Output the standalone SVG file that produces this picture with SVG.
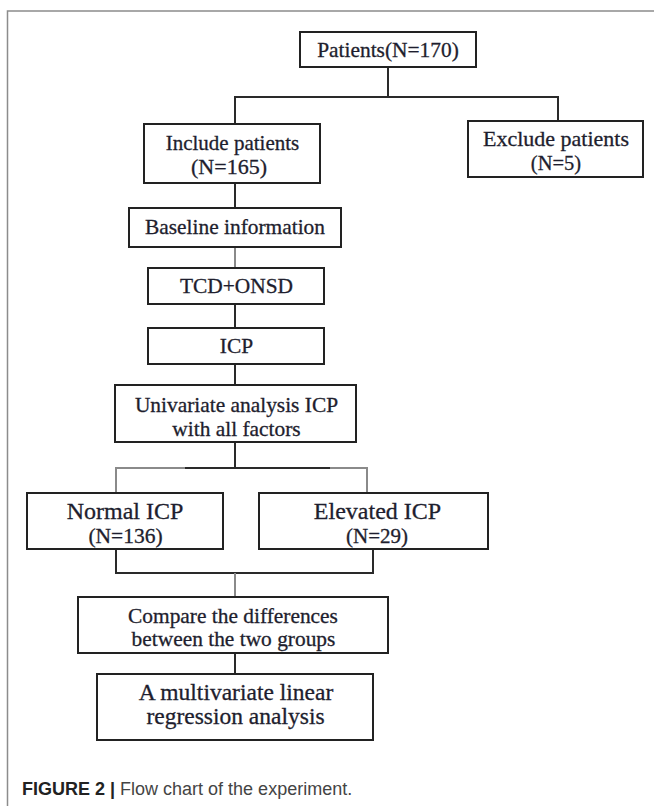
<svg xmlns="http://www.w3.org/2000/svg" width="654" height="806" viewBox="0 0 654 806">
<style>
.box{fill:#fff;stroke:#222;stroke-width:2}
.t{font-family:"Liberation Serif","Times New Roman",serif;fill:#1e1e2e;stroke:#1e1e2e;stroke-width:0.3;text-anchor:middle}
.c{fill:none;stroke:#2a2a2a;stroke-width:2}
.g{fill:none;stroke:#8a8a8a;stroke-width:2}
.frame{fill:none;stroke:#8c8c8c;stroke-width:1.5}
.cap{font-family:"Liberation Sans",Arial,sans-serif;font-size:18px}
</style>
<rect width="654" height="806" fill="#fff"/>
<path class="frame" d="M7.5,806 V11 H654"/>
<g id="connectors">
<path class="c" d="M388,67 V97"/>
<path class="c" d="M235,124 V97 H558 V121"/>
<path class="c" d="M235,183 V208"/>
<path class="g" d="M235,247 V268"/>
<path class="c" d="M235,304 V328"/>
<path class="c" d="M235,364 V385"/>
<path class="c" d="M235,442 V468"/>
<path class="g" d="M116,493 V468 H185"/>
<path class="c" d="M185,468 H330"/>
<path class="g" d="M330,468 H367 V493"/>
<path class="c" d="M116,549 V573 H373 V549"/>
<path class="g" d="M235,573 V597"/>
<path class="c" d="M235,653 V674"/>
</g>
<g id="patients">
<rect class="box" x="300" y="32" width="176" height="35"/>
<text class="t" x="388" y="57" font-size="21.4">Patients(N=170)</text>
</g>
<g id="include">
<rect class="box" x="144" y="124" width="176" height="59"/>
<text class="t" x="232.5" y="150" font-size="21">Include patients</text>
<text class="t" x="229" y="174" font-size="22">(N=165)</text>
</g>
<g id="exclude">
<rect class="box" x="468" y="121" width="175" height="56"/>
<text class="t" x="556" y="146" font-size="22">Exclude patients</text>
<text class="t" x="556" y="170" font-size="20.5">(N=5)</text>
</g>
<g id="baseline">
<rect class="box" x="129" y="208" width="212" height="39"/>
<text class="t" x="235" y="234" font-size="21.4">Baseline information</text>
</g>
<g id="tcd">
<rect class="box" x="148" y="268" width="176" height="36"/>
<text class="t" x="236.5" y="293" font-size="21.4">TCD+ONSD</text>
</g>
<g id="icp">
<rect class="box" x="148" y="328" width="176" height="36"/>
<text class="t" x="236.5" y="353" font-size="21.4">ICP</text>
</g>
<g id="univariate">
<rect class="box" x="115" y="385" width="241" height="57"/>
<text class="t" x="236.5" y="412" font-size="21.4">Univariate analysis ICP</text>
<text class="t" x="236.5" y="436" font-size="21.4">with all factors</text>
</g>
<g id="normal">
<rect class="box" x="27" y="493" width="196" height="56"/>
<text class="t" x="125" y="519" font-size="24">Normal ICP</text>
<text class="t" x="125.5" y="543" font-size="21.5">(N=136)</text>
</g>
<g id="elevated">
<rect class="box" x="259" y="493" width="229" height="56"/>
<text class="t" x="377.5" y="519" font-size="24">Elevated ICP</text>
<text class="t" x="377" y="543" font-size="21">(N=29)</text>
</g>
<g id="compare">
<rect class="box" x="78" y="597" width="310" height="56"/>
<text class="t" x="233" y="623" font-size="21.4">Compare the differences</text>
<text class="t" x="233.5" y="646" font-size="21.4">between the two groups</text>
</g>
<g id="multivariate">
<rect class="box" x="97" y="674" width="276" height="66"/>
<text class="t" x="236" y="700" font-size="23.5">A multivariate linear</text>
<text class="t" x="235.5" y="724" font-size="23.5">regression analysis</text>
</g>
<text class="cap" x="22" y="795"><tspan font-weight="bold" fill="#222">FIGURE 2</tspan><tspan font-weight="bold" fill="#222"> | </tspan><tspan fill="#444">Flow chart of the experiment.</tspan></text>
</svg>
